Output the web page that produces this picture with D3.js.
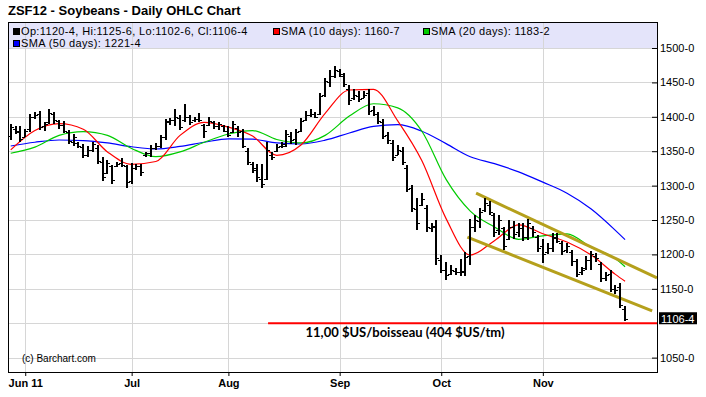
<!DOCTYPE html>
<html><head><meta charset="utf-8">
<script src="https://cdn.jsdelivr.net/npm/d3@7"></script>
<style>body{margin:0;background:#fff}svg{display:block}</style>
</head><body>
<svg id="chart" width="706" height="397"></svg>
<script>
// ---- data ----
const title = "ZSF12 - Soybeans - Daily OHLC Chart";
const opens  = [1372,1383,1380,1370,1382,1400,1404,1386,1392,1404,1394,1388,1378,1364,1362,1356,1345,1352,1355,1335,1318,1328,1328,1333,1328,1306,1326,1328,1345,1348,1355,1358,1370,1392,1396,1398,1395,1400,1395,1397,1388,1388,1392,1386,1386,1380,1378,1384,1380,1350,1332,1325,1310,1310,1345,1350,1358,1360,1372,1368,1380,1396,1402,1404,1404,1432,1450,1460,1466,1460,1440,1428,1430,1428,1434,1410,1404,1392,1374,1362,1345,1350,1326,1296,1266,1272,1268,1238,1242,1192,1178,1172,1176,1174,1175,1198,1240,1248,1265,1272,1258,1235,1238,1222,1240,1232,1238,1226,1238,1226,1212,1204,1210,1224,1216,1206,1204,1190,1174,1180,1192,1198,1186,1166,1172,1150,1152,1120.5];
const highs  = [1390,1386,1386,1383,1404,1407,1408,1393,1412,1407,1396,1394,1381,1375,1364,1361,1357,1364,1359,1342,1337,1330,1335,1340,1330,1333,1332,1331,1349,1359,1362,1373,1397,1398,1412,1403,1418,1403,1400,1405,1390,1399,1394,1392,1388,1386,1394,1386,1383,1354,1335,1331,1332,1364,1349,1361,1364,1381,1378,1383,1398,1409,1411,1407,1434,1456,1468,1474,1470,1463,1446,1441,1437,1438,1441,1415,1407,1397,1378,1367,1359,1356,1330,1301,1282,1289,1272,1246,1250,1199,1189,1185,1180,1194,1204,1252,1257,1268,1282,1278,1260,1257,1240,1250,1248,1245,1245,1251,1241,1228,1223,1216,1231,1231,1219,1217,1206,1194,1182,1197,1205,1202,1189,1175,1177,1156,1158,1125.75];
const lows   = [1367,1375,1364,1370,1378,1397,1381,1380,1390,1390,1383,1376,1360,1357,1354,1340,1342,1349,1332,1307,1317,1303,1327,1327,1296,1303,1323,1314,1342,1342,1352,1354,1366,1388,1387,1381,1392,1388,1393,1392,1369,1386,1383,1381,1378,1371,1377,1371,1354,1330,1318,1305,1297,1308,1337,1349,1354,1356,1361,1359,1378,1394,1399,1398,1403,1429,1444,1456,1458,1443,1417,1424,1422,1427,1403,1401,1390,1368,1361,1336,1345,1330,1291,1262,1236,1270,1233,1232,1185,1173,1163,1170,1170,1168,1169,1185,1233,1238,1262,1257,1226,1228,1206,1221,1223,1226,1219,1221,1226,1203,1188,1201,1203,1216,1199,1202,1183,1167,1170,1177,1177,1189,1160,1162,1146,1143,1122,1102.75];
const closes = [1385,1378,1368,1380,1400,1403,1385,1390,1405,1395,1388,1380,1365,1370,1357,1344,1352,1360,1336,1312,1333,1308,1332,1330,1305,1325,1328,1320,1347,1355,1358,1370,1394,1395,1400,1385,1400,1392,1397,1395,1380,1394,1386,1390,1380,1374,1390,1378,1358,1334,1322,1312,1302,1352,1342,1356,1358,1375,1366,1378,1394,1402,1404,1400,1430,1452,1460,1468,1462,1448,1425,1432,1426,1432,1408,1404,1394,1372,1366,1342,1352,1334,1295,1268,1245,1280,1240,1240,1195,1178,1170,1178,1174,1176,1196,1240,1250,1262,1275,1262,1232,1250,1212,1240,1230,1238,1225,1245,1232,1210,1200,1210,1225,1220,1205,1212,1190,1172,1178,1192,1200,1195,1166,1170,1150,1148,1126,1106.5];
// moving averages read at sampled bar positions
const smaIdx = [0,5,10,15,20,25,30,35,40,45,50,55,60,65,70,75,80,85,90,95,100,105,110,115,120,125,127];
const sma10  = [1352,1380,1390,1382,1349,1331,1335,1373,1392,1385,1372,1344,1359,1405,1439,1440,1394,1336,1252,1199,1220,1243,1230,1218,1199,1171,1161];
const sma20  = [1347,1356,1373,1378.5,1373,1354,1342,1349,1363,1375,1380,1367,1362,1373,1401,1419,1413,1379,1309,1263,1240,1222,1227,1230,1210,1194,1182];
const sma50  = [1357.6,1363,1366.3,1365.5,1362,1356.5,1353.2,1357,1363,1368,1367.5,1362,1360.5,1366,1376.5,1386,1388.5,1379,1361,1342,1332,1320,1305,1289,1266,1235,1221.5];
// drawn trend lines [barIndex, price]
const trendUpper = [[96.2,1289],[133.6,1166]];
const trendLower = [[94.4,1225],[132.6,1118]];
const supportLevel = 1100, supportStart = 53.2;
const xTickIdx = [3,25,45,68,89,110];
const xTickLabels = ["Jun 11","Jul","Aug","Sep","Oct","Nov"];
const yTicks = [1050,1100,1150,1200,1250,1300,1350,1400,1450,1500];
const legendItems = [
  {row:0, x:0,   color:"#000000", text:"Op:1120-4, Hi:1125-6, Lo:1102-6, Cl:1106-4"},
  {row:0, x:260, color:"#ff0000", text:"SMA (10 days): 1160-7"},
  {row:0, x:410, color:"#00cc00", text:"SMA (20 days): 1183-2"},
  {row:1, x:0,   color:"#0000ff", text:"SMA (50 days): 1221-4"}
];
const lastLabel = "1106-4";
const annotation = "11,00 $US/boisseau (404 $US/tm)";

// ---- layout ----
const L = 8, R = 657, T = 22, B = 372;
const svg = d3.select("#chart");
const x = d3.scaleLinear().domain([-0.56, 133.6]).range([L, R]);
const y = d3.scaleLinear().domain([1029.1, 1537.8]).range([B, T]);

svg.append("rect").attr("width",706).attr("height",397).attr("fill","#fff");
svg.append("text").attr("x",8).attr("y",15).attr("font-family","Liberation Sans, Arial, sans-serif")
  .attr("font-weight","bold").attr("font-size",13).attr("fill","#000").text(title);

// legend background
svg.append("rect").attr("x",L).attr("y",T).attr("width",R-L).attr("height",26).attr("fill","#e4e4fa");

// gridlines
const grid = svg.append("g").attr("stroke","#d6d6d6").attr("stroke-width",1).attr("shape-rendering","crispEdges");
yTicks.forEach(v => grid.append("line").attr("x1",L).attr("x2",R).attr("y1",Math.round(y(v))+0.5).attr("y2",Math.round(y(v))+0.5));
xTickIdx.forEach(i => grid.append("line").attr("y1",T).attr("y2",B).attr("x1",Math.round(x(i))+0.5).attr("x2",Math.round(x(i))+0.5));

// moving averages
const smaLine = d3.line().x(d => x(d[0])).y(d => y(d[1])).curve(d3.curveMonotoneX);
[[sma50,"#0000ff"],[sma20,"#00cc00"],[sma10,"#ff0000"]].forEach(([vals,col]) => {
  svg.append("path").datum(smaIdx.map((k,j) => [k, vals[j]]))
    .attr("d", smaLine).attr("fill","none").attr("stroke",col).attr("stroke-width",1.2);
});

// trend lines
const tl = d3.line().x(d => x(d[0])).y(d => y(d[1]));
[trendUpper, trendLower].forEach(t => svg.append("path").datum(t).attr("d",tl)
  .attr("stroke","#b5a01c").attr("stroke-width",3).attr("fill","none"));

// support line
svg.append("line").attr("x1",x(supportStart)).attr("x2",R).attr("y1",y(supportLevel)).attr("y2",y(supportLevel))
  .attr("stroke","#ff0000").attr("stroke-width",2);

// OHLC bars
const bars = svg.append("g").attr("stroke","#000").attr("shape-rendering","crispEdges");
opens.forEach((o,i) => {
  const cx = Math.round(x(i));
  bars.append("line").attr("x1",cx).attr("x2",cx).attr("y1",y(highs[i])).attr("y2",y(lows[i])).attr("stroke-width",2);
  bars.append("line").attr("x1",cx-3).attr("x2",cx).attr("y1",Math.round(y(o))+0.5).attr("y2",Math.round(y(o))+0.5).attr("stroke-width",1);
  bars.append("line").attr("x1",cx).attr("x2",cx+3).attr("y1",Math.round(y(closes[i]))+0.5).attr("y2",Math.round(y(closes[i]))+0.5).attr("stroke-width",1);
});

// frame
svg.append("rect").attr("x",L+0.5).attr("y",T+0.5).attr("width",R-L).attr("height",B-T)
  .attr("fill","none").attr("stroke","#000").attr("stroke-width",1).attr("shape-rendering","crispEdges");

// legend
const lg = svg.append("g").attr("font-family","Liberation Sans, Arial, sans-serif").attr("font-size",11);
legendItems.forEach(it => {
  const yy = T + 9 + it.row*12;
  lg.append("rect").attr("x",L+5+it.x+0.5).attr("y",yy-2.5).attr("width",6).attr("height",6)
    .attr("fill",it.color).attr("stroke","#000").attr("stroke-width",1);
  lg.append("text").attr("x",L+13+it.x).attr("y",yy+4).attr("letter-spacing",0.35).attr("fill","#000").text(it.text);
});

// right axis
const yAxis = d3.axisRight(y).tickValues(yTicks.filter(v => v !== 1100)).tickSizeInner(-5).tickSizeOuter(0).tickPadding(3)
  .tickFormat(d => d + "-0");
const ya = svg.append("g").attr("transform",`translate(${R},0)`).call(yAxis);
ya.select(".domain").remove();
ya.selectAll("text").attr("font-family","Liberation Sans, Arial, sans-serif").attr("font-size",11).attr("fill","#000");
ya.selectAll("line").attr("stroke","#000");

// bottom axis
const xAxis = d3.axisBottom(x).tickValues(xTickIdx).tickFormat((d,j) => xTickLabels[j]).tickSizeInner(4).tickSizeOuter(0).tickPadding(3);
const xa = svg.append("g").attr("transform",`translate(0,${B})`).call(xAxis);
xa.select(".domain").remove();
xa.selectAll("text").attr("font-family","Liberation Sans, Arial, sans-serif").attr("font-size",11)
  .attr("font-weight","bold").attr("fill","#000");
xa.selectAll("line").attr("stroke","#000");

// last price box
const ly = y(closes[closes.length-1]);
svg.append("rect").attr("x",R+2).attr("y",ly-6.5).attr("width",38).attr("height",12).attr("fill","#000");
svg.append("text").attr("x",R+4).attr("y",ly+4).attr("font-family","Liberation Sans, Arial, sans-serif")
  .attr("font-size",11).attr("fill","#fff").text(lastLabel);

// annotation & copyright
svg.append("text").attr("x",405).attr("y",337).attr("text-anchor","middle").attr("font-family","Lato, sans-serif")
  .attr("font-weight","bold").attr("font-size",13).attr("fill","#000").text(annotation);
svg.append("text").attr("x",22).attr("y",362).attr("font-family","Liberation Sans, Arial, sans-serif")
  .attr("font-size",10).attr("fill","#000").text("(c) Barchart.com");
</script>
</body></html>
